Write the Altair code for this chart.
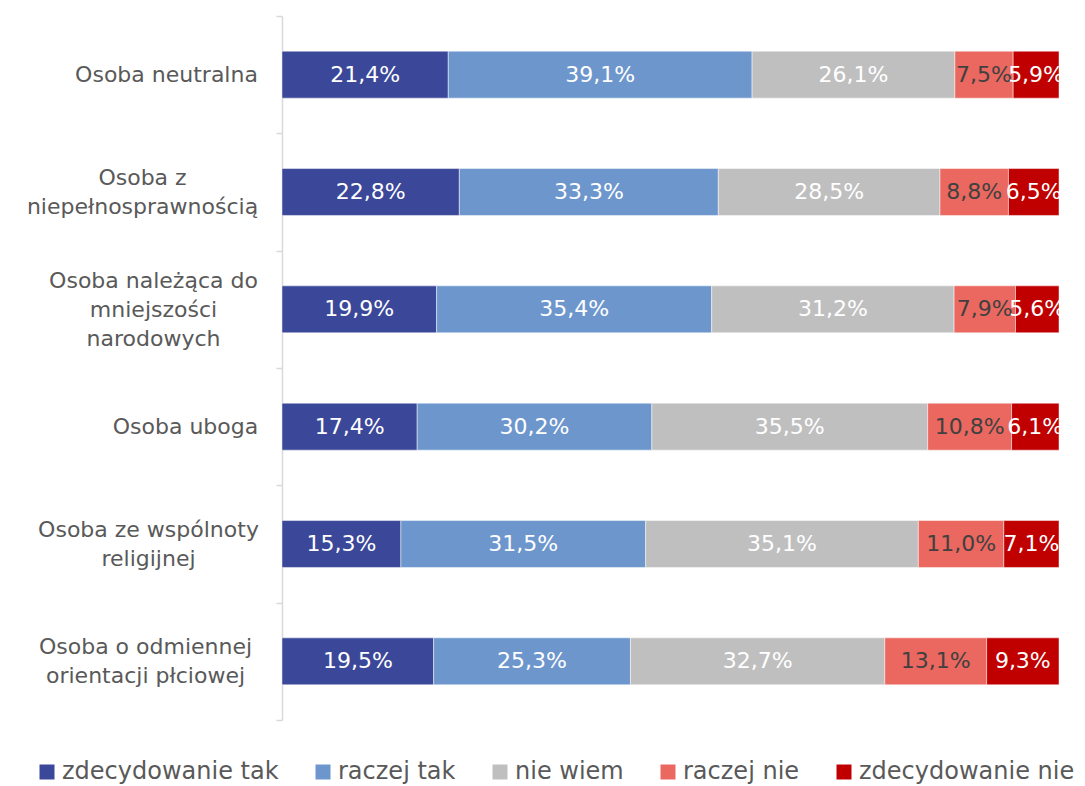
import altair as alt
import pandas as pd

categories = [
    "Osoba neutralna",
    "Osoba z|niepełnosprawnością",
    "Osoba należąca do|mniejszości|narodowych",
    "Osoba uboga",
    "Osoba ze wspólnoty|religijnej",
    "Osoba o odmiennej|orientacji płciowej",
]
answers = ["zdecydowanie tak", "raczej tak", "nie wiem", "raczej nie", "zdecydowanie nie"]
zdecydowanie_tak = [21.4, 22.8, 19.9, 17.4, 15.3, 19.5]
raczej_tak = [39.1, 33.3, 35.4, 30.2, 31.5, 25.3]
nie_wiem = [26.1, 28.5, 31.2, 35.5, 35.1, 32.7]
raczej_nie = [7.5, 8.8, 7.9, 10.8, 11.0, 13.1]
zdecydowanie_nie = [5.9, 6.5, 5.6, 6.1, 7.1, 9.3]
series = [zdecydowanie_tak, raczej_tak, nie_wiem, raczej_nie, zdecydowanie_nie]
colors = ["#3B4899", "#6D96CD", "#BFBFBF", "#EA685F", "#C00000"]

rows = []
for ai, (ans, vals) in enumerate(zip(answers, series)):
    for cat, v in zip(categories, vals):
        rows.append({"category": cat, "answer": ans, "order": ai, "value": v,
                     "label": f"{v:.1f}%".replace(".", ",")})
df = pd.DataFrame(rows)

FONT = "DejaVu Sans"
LINE_H = 29

# per-label padding so that multi-line labels are centred as a block that is right aligned
label_pad = [110, 134, 123, 91, 128, 131]
pad_cond = {
    "condition": [
        {"test": f"datum.value === '{c}'", "value": p} for c, p in zip(categories, label_pad)
    ],
    "value": 110,
}
# shift multi-line labels up so the block is vertically centred on the band
offset_cond = {
    "condition": [
        {"test": "length(split(datum.value, '|')) == 3", "value": -LINE_H},
        {"test": "length(split(datum.value, '|')) == 2", "value": -LINE_H / 2},
    ],
    "value": 0,
}

base = alt.Chart(df).transform_stack(
    stack="value", groupby=["category"], as_=["x0", "x1"],
    sort=[alt.SortField("order", "ascending")], offset="normalize"
).transform_calculate(mid="(datum.x0 + datum.x1) / 2")

y_enc = alt.Y(
    "category:N", sort=categories, title=None,
    scale=alt.Scale(paddingInner=0, paddingOuter=0),
    axis=alt.Axis(
        labelExpr="split(datum.label, '|')",
        labelFont=FONT, labelFontSize=22, labelColor="#595959",
        labelLineHeight=LINE_H, labelAlign="center", labelLimit=0,
        labelPadding=pad_cond, labelOffset=offset_cond,
        tickBand="extent", tickSize=6, tickColor="#D9D9D9", tickWidth=1.5,
        domainColor="#D9D9D9", domainWidth=1.5,
    ),
)
x_scale = alt.Scale(domain=[0, 1], nice=False)

bars = base.mark_bar(height={"band": 0.4}, stroke="white", strokeWidth=0.8, strokeOpacity=0.6).encode(
    x=alt.X("x0:Q", scale=x_scale, axis=None),
    x2="x1:Q",
    y=y_enc,
    color=alt.Color(
        "answer:N", sort=answers,
        scale=alt.Scale(domain=answers, range=colors),
        legend=alt.Legend(
            title=None, orient="none", direction="horizontal",
            legendX=-247, legendY=744,
            symbolType="square", symbolSize=225, symbolStrokeWidth=0,
            labelFont=FONT, labelFontSize=24, labelColor="#595959", labelLimit=0,
            labelOffset=3, columnPadding=32, symbolOffset=0,
        ),
    ),
    order=alt.Order("order:Q"),
)

texts = base.mark_text(font=FONT, fontSize=22, baseline="middle", align="center").encode(
    x=alt.X("mid:Q", scale=x_scale, axis=None),
    y=alt.Y("category:N", sort=categories),
    text="label:N",
    color=alt.condition(alt.datum.answer == "raczej nie", alt.value("#404040"), alt.value("white")),
)

chart = alt.layer(bars, texts).properties(
    width=777, height=704,
    autosize=alt.AutoSizeParams(type="none"),
    padding={"left": 274, "top": 8, "right": 18, "bottom": 70},
).configure_view(stroke=None)

chart.save("out.html", embed_options={"renderer": "svg", "actions": False})
